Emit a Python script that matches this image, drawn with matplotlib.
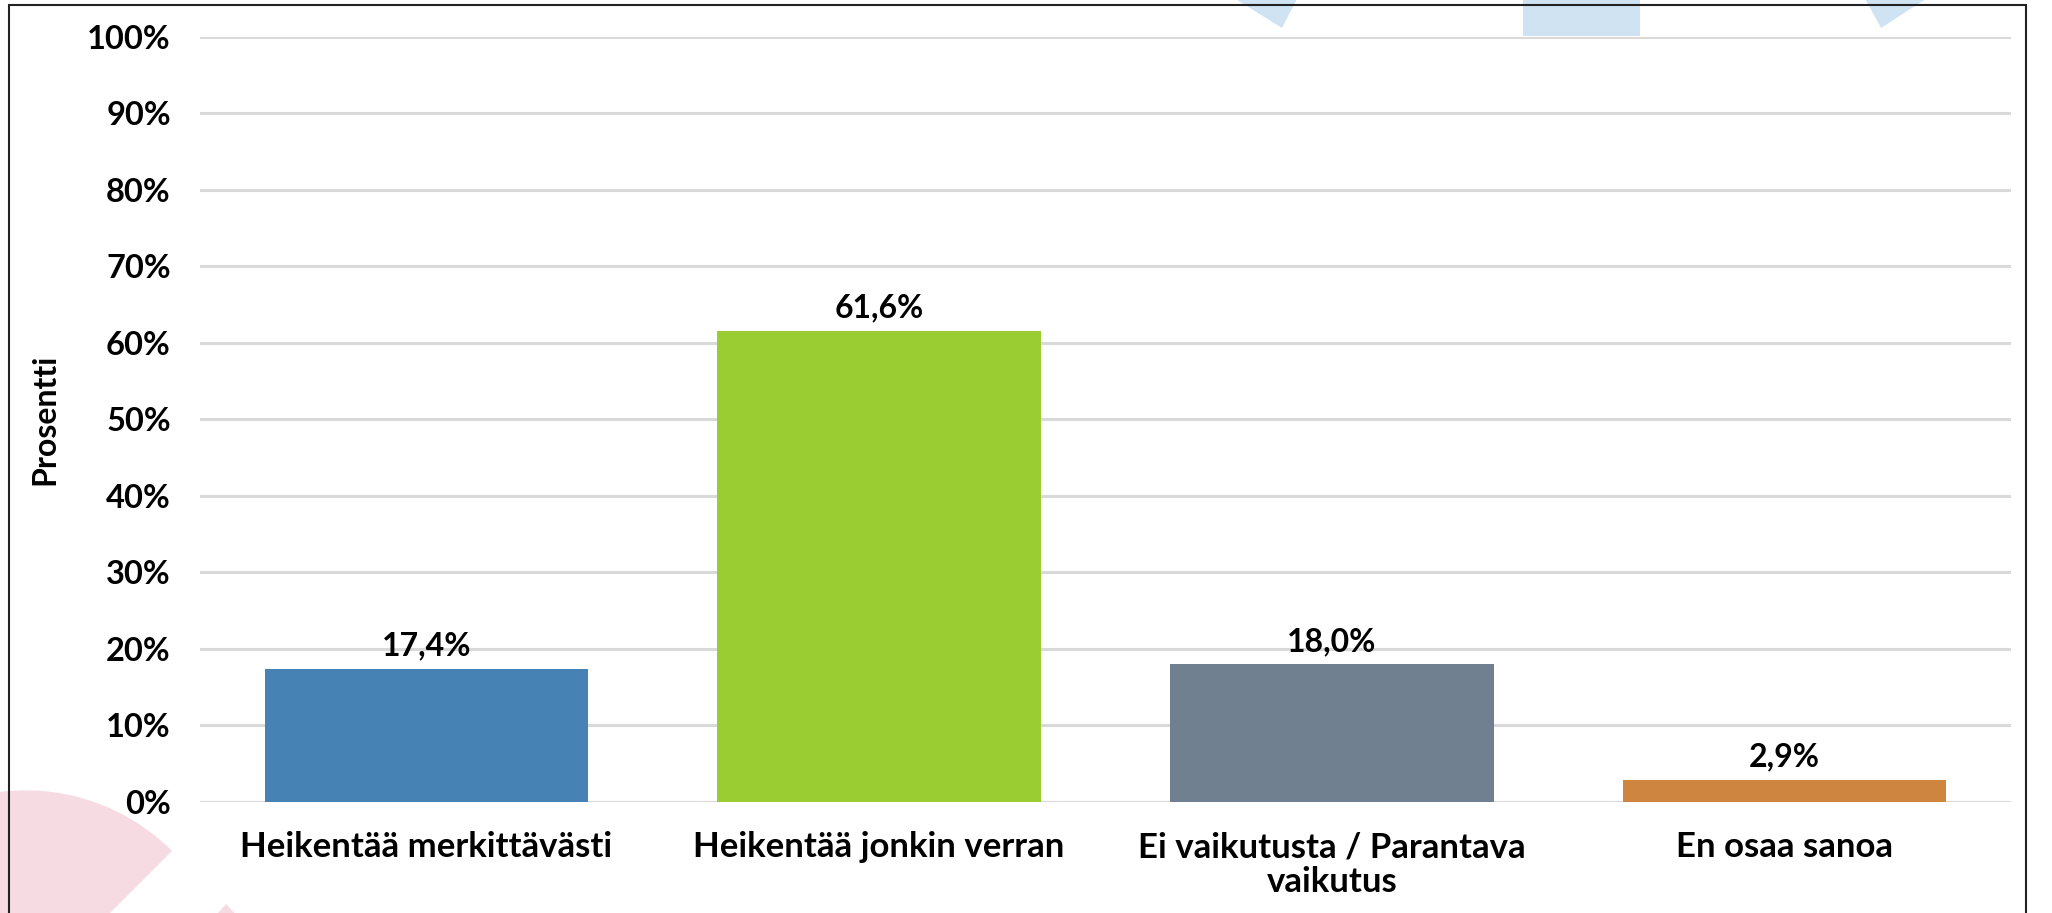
import matplotlib
matplotlib.use("Agg")
import matplotlib.pyplot as plt
from matplotlib.patches import Rectangle, Polygon, Wedge
from matplotlib.transforms import Affine2D
from matplotlib.ticker import FuncFormatter, MultipleLocator

categories = ["Heikentää merkittävästi", "Heikentää jonkin verran",
              "Ei vaikutusta / Parantava\nvaikutus", "En osaa sanoa"]
values = [17.4, 61.6, 18.0, 2.9]
value_labels = ["17,4%", "61,6%", "18,0%", "2,9%"]
colors = ["#4682b4", "#9acd32", "#708090", "#cd853f"]
ylabel = "Prosentti"

W, H = 2052, 913
plt.rcParams['font.family'] = ['Lato', 'DejaVu Sans']
plt.rcParams['font.weight'] = 'bold'

fig = plt.figure(figsize=(W / 100, H / 100), dpi=100)
fig.patch.set_facecolor("white")
px = Affine2D().scale(1 / W, 1 / H) + fig.transFigure

# background decorations (pixel coords, y up)
blue = "#cfe3f3"
pink = "#f6dce2"
fig.add_artist(Polygon([(1226, 920), (1300, 920), (1282, 885)], closed=True,
                       transform=px, facecolor=blue, edgecolor="none", zorder=0))
fig.add_artist(Rectangle((1523, 877), 117, 50, transform=px, facecolor=blue,
                         edgecolor="none", zorder=0))
fig.add_artist(Polygon([(1862, 920), (1935, 920), (1881, 885)], closed=True,
                       transform=px, facecolor=blue, edgecolor="none", zorder=0))
fig.add_artist(Wedge((25.7, -84.3), 207, 45, 200, transform=px, facecolor=pink,
                     edgecolor="none", zorder=0))
fig.add_artist(Polygon([(226, 9), (196, -25), (258, -25)], closed=True,
                       transform=px, facecolor=pink, edgecolor="none", zorder=0))

# border
fig.add_artist(Rectangle((9, -20), 2017, 913 - 5 + 20, transform=px,
                         facecolor="none", edgecolor="#222222", linewidth=1.5, zorder=1))

ax = fig.add_axes([200 / W, 1 - 802 / H, (2011 - 200) / W, (802 - 36.6) / H])
ax.set_facecolor("none")
x = range(len(categories))
bars = ax.bar(x, values, width=0.714, color=colors, zorder=3)
ax.set_xlim(-0.5, len(categories) - 0.5)
ax.set_ylim(0, 100)
ax.yaxis.set_major_locator(MultipleLocator(10))
ax.yaxis.set_major_formatter(FuncFormatter(lambda v, p: f"{int(round(v))}%"))
ax.grid(axis="y", color="#d9d9d9", linewidth=2.2, zorder=0)
ax.set_axisbelow(True)
for s in ax.spines.values():
    s.set_visible(False)
ax.tick_params(axis="both", length=0)
ax.tick_params(axis="y", pad=21, labelsize=23.5)
ax.tick_params(axis="x", pad=21, labelsize=25)
ax.set_xticks(list(x))
ax.set_xticklabels(categories, fontweight="bold", linespacing=1.12)
for lab in ax.get_yticklabels():
    lab.set_fontweight("bold")
ax.set_ylabel(ylabel, fontsize=23, fontweight="bold")
ax.yaxis.set_label_coords(-(200 - 59) / (2011 - 200), 0.5)

for xi, v, t in zip(x, values, value_labels):
    ax.annotate(t, (xi, v), xytext=(0, 6), textcoords="offset points",
                ha="center", va="bottom", fontsize=23, fontweight="bold")

fig.savefig("out.png", dpi=100, facecolor="white")
